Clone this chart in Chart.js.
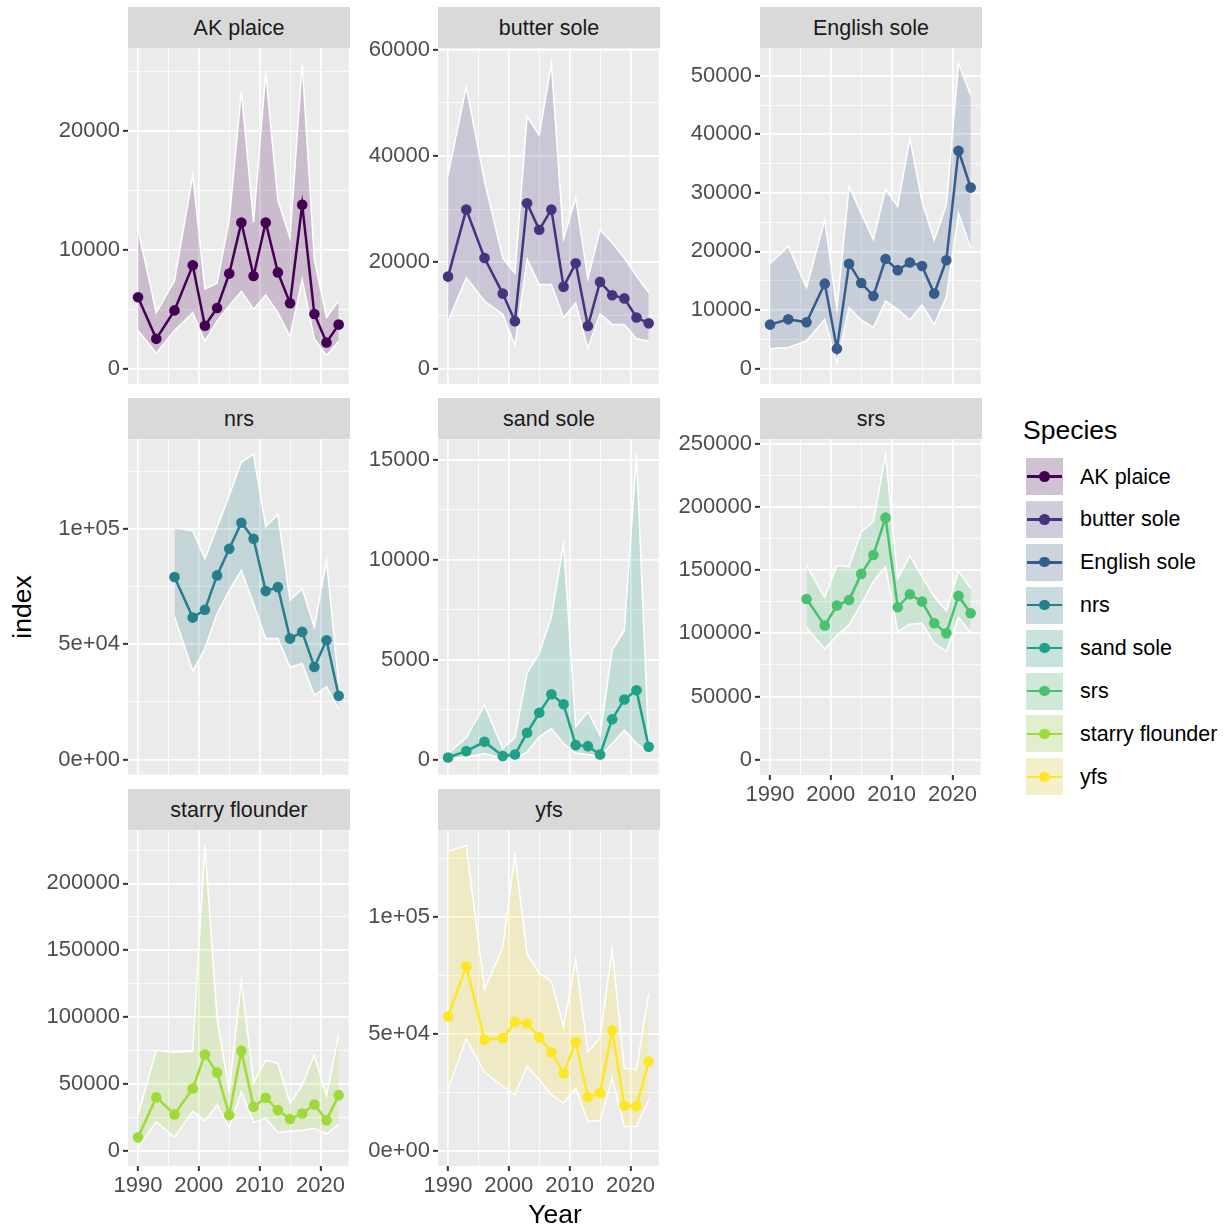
<!DOCTYPE html>
<html>
<head>
<meta charset="utf-8">
<script src="https://cdn.jsdelivr.net/npm/chart.js@4.4.1/dist/chart.umd.min.js"></script>
<style>
body { margin: 0; background: #fff; width: 1229px; height: 1230px; position: relative; overflow: hidden;
       font-family: 'Liberation Sans', Arial, sans-serif; }
canvas { position: absolute; }
.strip { position: absolute; background: #d9d9d9; color: #1a1a1a; font-size: 21.5px; height: 41px;
         display: flex; align-items: center; justify-content: center; padding-top: 2px; box-sizing: border-box; }
.title { position: absolute; font-size: 26.5px; color: #000; line-height: 1; white-space: nowrap; }
.lab { position: absolute; font-size: 21.5px; color: #000; line-height: 1; white-space: nowrap; transform: translateY(-50%); }
.key { position: absolute; width: 37px; height: 37px; }
</style>
</head>
<body>
<script>
// survey years
var years = [1990, 1993, 1996, 1999, 2001, 2003, 2005, 2007, 2009, 2011, 2013, 2015, 2017, 2019, 2021, 2023];
var yearsLate = [1996, 1999, 2001, 2003, 2005, 2007, 2009, 2011, 2013, 2015, 2017, 2019, 2021, 2023];

var akIndex = [6000, 2500, 4900, 8700, 3600, 5100, 8000, 12300, 7800, 12300, 8100, 5500, 13800, 4600, 2200, 3700];
var akLower = [3200, 1300, 3200, 4700, 2300, 4000, 5300, 6500, 5000, 6200, 4700, 2700, 7500, 2500, 1100, 2300];
var akUpper = [11700, 4700, 7400, 16300, 6700, 7200, 12500, 23400, 12300, 24900, 14200, 11000, 25700, 9200, 4300, 5700];

var bsIndex = [17300, 29900, 20800, 14100, 8900, 31100, 26100, 29900, 15400, 19800, 8000, 16300, 13800, 13200, 9600, 8500];
var bsLower = [8900, 17100, 12700, 10200, 4400, 20600, 15800, 15800, 9600, 12300, 3800, 10300, 8300, 8300, 5600, 5200];
var bsUpper = [36400, 53000, 35200, 20800, 17900, 47400, 43900, 57400, 24400, 32100, 16900, 26100, 23600, 20800, 17400, 14300];

var esIndex = [7500, 8400, 7900, 14500, 3400, 17900, 14600, 12400, 18700, 16800, 18100, 17500, 12800, 18500, 37200, 30900];
var esLower = [3400, 3600, 4700, 8400, 1000, 10400, 8300, 7000, 11500, 10100, 8300, 10900, 7500, 12200, 26500, 20600];
var esUpper = [17900, 20900, 13800, 25400, 10200, 31100, 26500, 22000, 30600, 27700, 39300, 28500, 21900, 28000, 52100, 46700];

var nrsIndex = [79100, 61500, 64900, 79800, 91300, 102600, 95700, 73000, 74700, 52400, 55300, 40100, 51700, 27600];
var nrsLower = [61800, 38400, 48100, 63200, 73300, 82000, 67500, 52400, 52400, 40100, 41600, 27800, 31500, 22100];
var nrsUpper = [100400, 99000, 87000, 100700, 114400, 128900, 132200, 101000, 106200, 69000, 74000, 57400, 86300, 32900];

var ssIndex = [100, 420, 890, 180, 250, 1340, 2340, 3270, 2770, 720, 670, 250, 2020, 3010, 3470, 640];
var ssLower = [30, 130, 300, 50, 50, 380, 1140, 1550, 800, 330, 250, 130, 800, 1470, 800, 380];
var ssUpper = [300, 1090, 2720, 550, 1090, 4340, 5310, 7150, 10820, 1640, 2390, 1220, 5480, 6480, 15280, 890];

var srsIndex = [127200, 106200, 122000, 126400, 147000, 162000, 191500, 120600, 130900, 125100, 108000, 100100, 129600, 115900];
var srsLower = [104600, 87700, 98200, 106700, 123000, 140900, 152800, 101400, 107200, 108000, 92200, 85600, 112500, 100900];
var srsUpper = [153600, 128300, 153600, 152800, 180400, 188300, 241500, 143000, 161500, 144900, 129100, 117700, 148800, 135700];

var sfIndex = [10000, 39900, 27200, 46600, 72000, 58500, 26700, 74700, 32900, 39600, 30400, 23700, 27900, 34600, 22900, 41600];
var sfLower = [2500, 21700, 10000, 29600, 22200, 34100, 17200, 44100, 21200, 24200, 13500, 14700, 15400, 16700, 12500, 19700];
var sfUpper = [26700, 75200, 73500, 74500, 228400, 98900, 44100, 127500, 50800, 67800, 65300, 35400, 49100, 71500, 40900, 86900];

var yfsIndex = [57500, 78900, 47500, 48200, 55100, 54600, 48600, 42200, 33200, 46500, 23000, 24700, 51500, 19300, 19000, 38200];
var yfsLower = [26500, 47900, 33700, 27500, 24000, 36100, 30400, 24000, 20400, 26800, 12600, 12800, 31100, 10400, 10400, 21800];
var yfsUpper = [128100, 130700, 69300, 87000, 126700, 84200, 76000, 72500, 53200, 81700, 42500, 48200, 86000, 35400, 34700, 67000];

// axis ticks
var xTicks = [1990, 2000, 2010, 2020];
var xTickLabels = ['1990', '2000', '2010', '2020'];
var akTicks = [0, 10000, 20000];
var akTickLabels = ['0', '10000', '20000'];
var bsTicks = [0, 20000, 40000, 60000];
var bsTickLabels = ['0', '20000', '40000', '60000'];
var esTicks = [0, 10000, 20000, 30000, 40000, 50000];
var esTickLabels = ['0', '10000', '20000', '30000', '40000', '50000'];
var nrsTicks = [0, 50000, 100000];
var nrsTickLabels = ['0e+00', '5e+04', '1e+05'];
var ssTicks = [0, 5000, 10000, 15000];
var ssTickLabels = ['0', '5000', '10000', '15000'];
var srsTicks = [0, 50000, 100000, 150000, 200000, 250000];
var srsTickLabels = ['0', '50000', '100000', '150000', '200000', '250000'];
var sfTicks = [0, 50000, 100000, 150000, 200000];
var sfTickLabels = ['0', '50000', '100000', '150000', '200000'];
var yfsTicks = [0, 50000, 100000];
var yfsTickLabels = ['0e+00', '5e+04', '1e+05'];

var species = ['AK plaice', 'butter sole', 'English sole', 'nrs', 'sand sole', 'srs', 'starry flounder', 'yfs'];
var colors = ['#440154', '#46337E', '#365C8D', '#277F8E', '#1FA187', '#4AC16D', '#9FDA3A', '#FDE725'];

var panels = [
	{ x: years, idx: akIndex, lo: akLower, hi: akUpper, ticks: akTicks, labels: akTickLabels },
	{ x: years, idx: bsIndex, lo: bsLower, hi: bsUpper, ticks: bsTicks, labels: bsTickLabels },
	{ x: years, idx: esIndex, lo: esLower, hi: esUpper, ticks: esTicks, labels: esTickLabels },
	{ x: yearsLate, idx: nrsIndex, lo: nrsLower, hi: nrsUpper, ticks: nrsTicks, labels: nrsTickLabels },
	{ x: years, idx: ssIndex, lo: ssLower, hi: ssUpper, ticks: ssTicks, labels: ssTickLabels },
	{ x: yearsLate, idx: srsIndex, lo: srsLower, hi: srsUpper, ticks: srsTicks, labels: srsTickLabels },
	{ x: years, idx: sfIndex, lo: sfLower, hi: sfUpper, ticks: sfTicks, labels: sfTickLabels },
	{ x: years, idx: yfsIndex, lo: yfsLower, hi: yfsUpper, ticks: yfsTicks, labels: yfsTickLabels }
];

// layout (px)
var COL_X = [128, 438, 760];
var ROW_Y = [48, 439, 830];
var PLOT_W = 222, PLOT_H = 336;
var YW = 90, PAD = 16, XH = 34;
var XMIN = 1990 - 0.05 * 33, XMAX = 2023 + 0.05 * 33;

Chart.defaults.font.family = "'Liberation Sans', Arial, sans-serif";
Chart.defaults.font.size = 22;
Chart.defaults.color = '#4d4d4d';

var panelBg = {
	id: 'panelBg',
	beforeDraw: function(chart) {
		var a = chart.chartArea, ctx = chart.ctx;
		ctx.save();
		ctx.fillStyle = '#ebebeb';
		ctx.fillRect(a.left, a.top, a.right - a.left, a.bottom - a.top);
		ctx.restore();
	}
};

function rgba(hex, a) {
	var n = parseInt(hex.slice(1), 16);
	return 'rgba(' + (n >> 16) + ',' + ((n >> 8) & 255) + ',' + (n & 255) + ',' + a + ')';
}

function pts(xs, ys) {
	return xs.map(function(x, k) { return { x: x, y: ys[k] }; });
}

function el(cls, css, text) {
	var d = document.createElement('div');
	d.className = cls;
	Object.assign(d.style, css);
	if (text) d.textContent = text;
	document.body.appendChild(d);
	return d;
}

function makePanel(i) {
	var p = panels[i];
	var col = i % 3, row = Math.floor(i / 3);
	var showX = i >= 5;
	var top = ROW_Y[row];

	el('strip', { left: COL_X[col] + 'px', top: (top - 41) + 'px', width: PLOT_W + 'px' }, species[i]);

	var cv = document.createElement('canvas');
	cv.width = YW + PLOT_W + 4;
	cv.height = PAD + PLOT_H + (showX ? XH : 0) + PAD;
	cv.style.left = (COL_X[col] - YW) + 'px';
	cv.style.top = (top - PAD) + 'px';
	document.body.appendChild(cv);

	var M = Math.max.apply(null, p.hi);
	var ymin = -0.05 * M, ymax = 1.05 * M;
	var step = p.ticks[1] - p.ticks[0];
	var yAll = p.ticks.slice();
	for (var v = p.ticks[0] - step / 2; v <= ymax; v += step) if (v >= ymin) yAll.push(v);
	yAll.sort(function(a, b) { return a - b; });
	var xAll = [1990, 1995, 2000, 2005, 2010, 2015, 2020];

	function yMajor(ctx) { return ctx.tick && p.ticks.indexOf(ctx.tick.value) >= 0; }
	function xMajor(ctx) { return ctx.tick && xTicks.indexOf(ctx.tick.value) >= 0; }

	new Chart(cv, {
		type: 'line',
		data: {
			datasets: [{
				data: pts(p.x, p.idx),
				borderColor: colors[i],
				backgroundColor: colors[i],
				borderWidth: 2.5,
				pointRadius: 5.3,
				pointBorderWidth: 0,
				pointBackgroundColor: colors[i],
				fill: false
			}, {
				data: pts(p.x, p.lo),
				borderColor: '#ffffff',
				borderWidth: 1.5,
				pointRadius: 0,
				fill: false
			}, {
				data: pts(p.x, p.hi),
				borderColor: '#ffffff',
				borderWidth: 1.5,
				pointRadius: 0,
				backgroundColor: rgba(colors[i], 0.2),
				fill: 1
			}]
		},
		options: {
			responsive: false,
			animation: false,
			devicePixelRatio: 1,
			events: [],
			layout: { padding: { top: PAD, bottom: PAD, left: 0, right: 4 } },
			plugins: { legend: { display: false }, tooltip: { enabled: false } },
			scales: {
				x: {
					type: 'linear',
					min: XMIN,
					max: XMAX,
					afterBuildTicks: function(s) { s.ticks = xAll.map(function(v) { return { value: v }; }); },
					afterFit: function(s) { s.height = showX ? XH : 0; },
					border: { display: false },
					grid: {
						color: '#ffffff',
						lineWidth: function(ctx) { return xMajor(ctx) ? 1.7 : 0.85; },
						drawTicks: showX,
						tickLength: 5,
						tickWidth: 2,
						tickColor: function(ctx) { return xMajor(ctx) ? '#333333' : 'rgba(0,0,0,0)'; }
					},
					ticks: {
						display: showX,
						autoSkip: false,
						maxRotation: 0,
						minRotation: 0,
						padding: 2,
						color: '#4d4d4d',
						callback: function(v) { var k = xTicks.indexOf(v); return k >= 0 ? xTickLabels[k] : ''; }
					}
				},
				y: {
					type: 'linear',
					min: ymin,
					max: ymax,
					afterBuildTicks: function(s) { s.ticks = yAll.map(function(v) { return { value: v }; }); },
					afterFit: function(s) { s.width = YW; },
					border: { display: false },
					grid: {
						color: '#ffffff',
						lineWidth: function(ctx) { return yMajor(ctx) ? 1.7 : 0.85; },
						tickLength: 5,
						tickWidth: 2,
						tickColor: function(ctx) { return yMajor(ctx) ? '#333333' : 'rgba(0,0,0,0)'; }
					},
					ticks: {
						autoSkip: false,
						padding: 3,
						color: '#4d4d4d',
						callback: function(v) { var k = p.ticks.indexOf(v); return k >= 0 ? p.labels[k] : ''; }
					}
				}
			}
		},
		plugins: [panelBg]
	});
}

for (var i = 0; i < panels.length; i++) makePanel(i);

// axis titles
el('title', { left: '22px', top: '607px', transform: 'translate(-50%,-50%) rotate(-90deg)' }, 'index');
el('title', { left: '555px', top: '1214px', transform: 'translate(-50%,-50%)' }, 'Year');

// legend
el('title', { left: '1023px', top: '430px', transform: 'translateY(-50%)' }, 'Species');
species.forEach(function(name, k) {
	var cy = 476.5 + k * 42.9;
	var key = el('key', { left: '1026px', top: (cy - 18.5) + 'px',
		background: 'linear-gradient(' + rgba(colors[k], 0.2) + ',' + rgba(colors[k], 0.2) + '), #f2f2f2' });
	var line = document.createElement('div');
	Object.assign(line.style, { position: 'absolute', left: '1px', top: '17.25px', width: '35px', height: '2.5px', background: colors[k] });
	key.appendChild(line);
	var dot = document.createElement('div');
	Object.assign(dot.style, { position: 'absolute', left: '13.3px', top: '13.3px', width: '10.4px', height: '10.4px', borderRadius: '50%', background: colors[k] });
	key.appendChild(dot);
	el('lab', { left: '1080px', top: (cy + 1) + 'px' }, name);
});
</script>
</body>
</html>
